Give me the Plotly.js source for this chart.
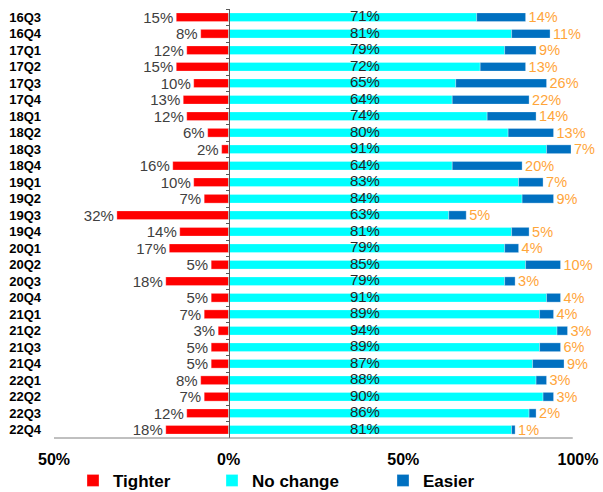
<!DOCTYPE html>
<html>
<head>
<meta charset="utf-8">
<script src="https://cdn.plot.ly/plotly-3.0.1.min.js"></script>
<style>
html,body{margin:0;padding:0;background:#fff;}
#chart{width:603px;height:492px;}
</style>
</head>
<body>
<div id="chart"></div>
<script>
var quarters = ["16Q3","16Q4","17Q1","17Q2","17Q3","17Q4","18Q1","18Q2","18Q3","18Q4","19Q1","19Q2","19Q3","19Q4","20Q1","20Q2","20Q3","20Q4","21Q1","21Q2","21Q3","21Q4","22Q1","22Q2","22Q3","22Q4"];
var tighter  = [15,8,12,15,10,13,12,6,2,16,10,7,32,14,17,5,18,5,7,3,5,5,8,7,12,18];
var noChange = [71,81,79,72,65,64,74,80,91,64,83,84,63,81,79,85,79,91,89,94,89,87,88,90,86,81];
var easier   = [14,11,9,13,26,22,14,13,7,20,7,9,5,5,4,10,3,4,4,3,6,9,3,3,2,1];
var xTickVals = [-50,0,50,100];
var xTickText = ["50%","0%","50%","100%"];

var FONT = "Liberation Sans, Arial, sans-serif";
function pct(a){ return a.map(function(v){ return v + "%"; }); }

var traces = [
  {
    type: "bar", orientation: "h", name: "Tighter",
    y: quarters, x: tighter.map(function(v){ return -v; }),
    marker: {color: "#FF0000", line: {color: "rgba(255,255,255,0.6)", width: 0.5}},
    text: pct(tighter), textposition: "outside", constraintext: "none", cliponaxis: false,
    textfont: {family: FONT, size: 15, color: "#404040"},
    hoverinfo: "none", legend: "legend"
  },
  {
    type: "bar", orientation: "h", name: "No change",
    y: quarters, x: noChange,
    marker: {color: "#00FFFF", line: {color: "rgba(255,255,255,0.6)", width: 0.5}},
    textposition: "none", hoverinfo: "none", legend: "legend2"
  },
  {
    type: "bar", orientation: "h", name: "Easier",
    y: quarters, x: easier,
    marker: {color: "#0070C0", line: {color: "rgba(255,255,255,0.6)", width: 0.5}},
    text: pct(easier), textposition: "outside", constraintext: "none", cliponaxis: false,
    textfont: {family: FONT, size: 14.5, color: "#FFA53A"},
    hoverinfo: "none", legend: "legend3"
  },
  {
    type: "scatter", mode: "text", showlegend: false,
    y: quarters, x: noChange.map(function(){ return 39; }),
    text: pct(noChange), textposition: "middle center",
    textfont: {family: FONT, size: 15, color: "#262626"},
    hoverinfo: "none", cliponaxis: false
  }
];

var legFont = {family: FONT, size: 17, color: "#000", weight: "bold"};
function leg(px){
  return {orientation: "h", x: (px - 54) / 524, xanchor: "left", y: -0.100, yanchor: "middle",
          font: legFont, bgcolor: "rgba(0,0,0,0)", borderwidth: 0};
}

var layout = {
  width: 603, height: 492,
  margin: {l: 54, r: 25, t: 9, b: 54, autoexpand: false},
  paper_bgcolor: "#fff", plot_bgcolor: "#fff",
  barmode: "relative", bargap: 0.47,
  font: {family: FONT},
  xaxis: {
    range: [-50, 100], tickvals: xTickVals, ticktext: xTickText,
    showgrid: false, zeroline: false, showline: false, ticks: "",
    tickfont: {family: FONT, size: 16, color: "#000", weight: "bold"},
    ticklabelstandoff: 10, fixedrange: true, automargin: false
  },
  yaxis: {
    type: "category", range: [quarters.length - 0.5, -0.5],
    tickmode: "linear", tick0: 0, dtick: 1,
    anchor: "free", position: 50/150,
    showline: true, linecolor: "#595959", linewidth: 1,
    ticks: "outside", ticklen: 3, tickcolor: "#595959", tickson: "boundaries",
    showgrid: false, zeroline: false,
    tickfont: {family: FONT, size: 13, color: "#000", weight: "bold"},
    ticklabelstandoff: 185, fixedrange: true, automargin: false
  },
  shapes: [
    {type: "line", xref: "x", yref: "paper", x0: -50, x1: 98.5, y0: 0, y1: 0,
     line: {color: "#808080", width: 1}}
  ],
  legend: leg(113 - 40),
  legend2: leg(252 - 40),
  legend3: leg(423 - 40),
  showlegend: true
};

Plotly.newPlot("chart", traces, layout, {displayModeBar: false, staticPlot: true});
</script>
</body>
</html>
